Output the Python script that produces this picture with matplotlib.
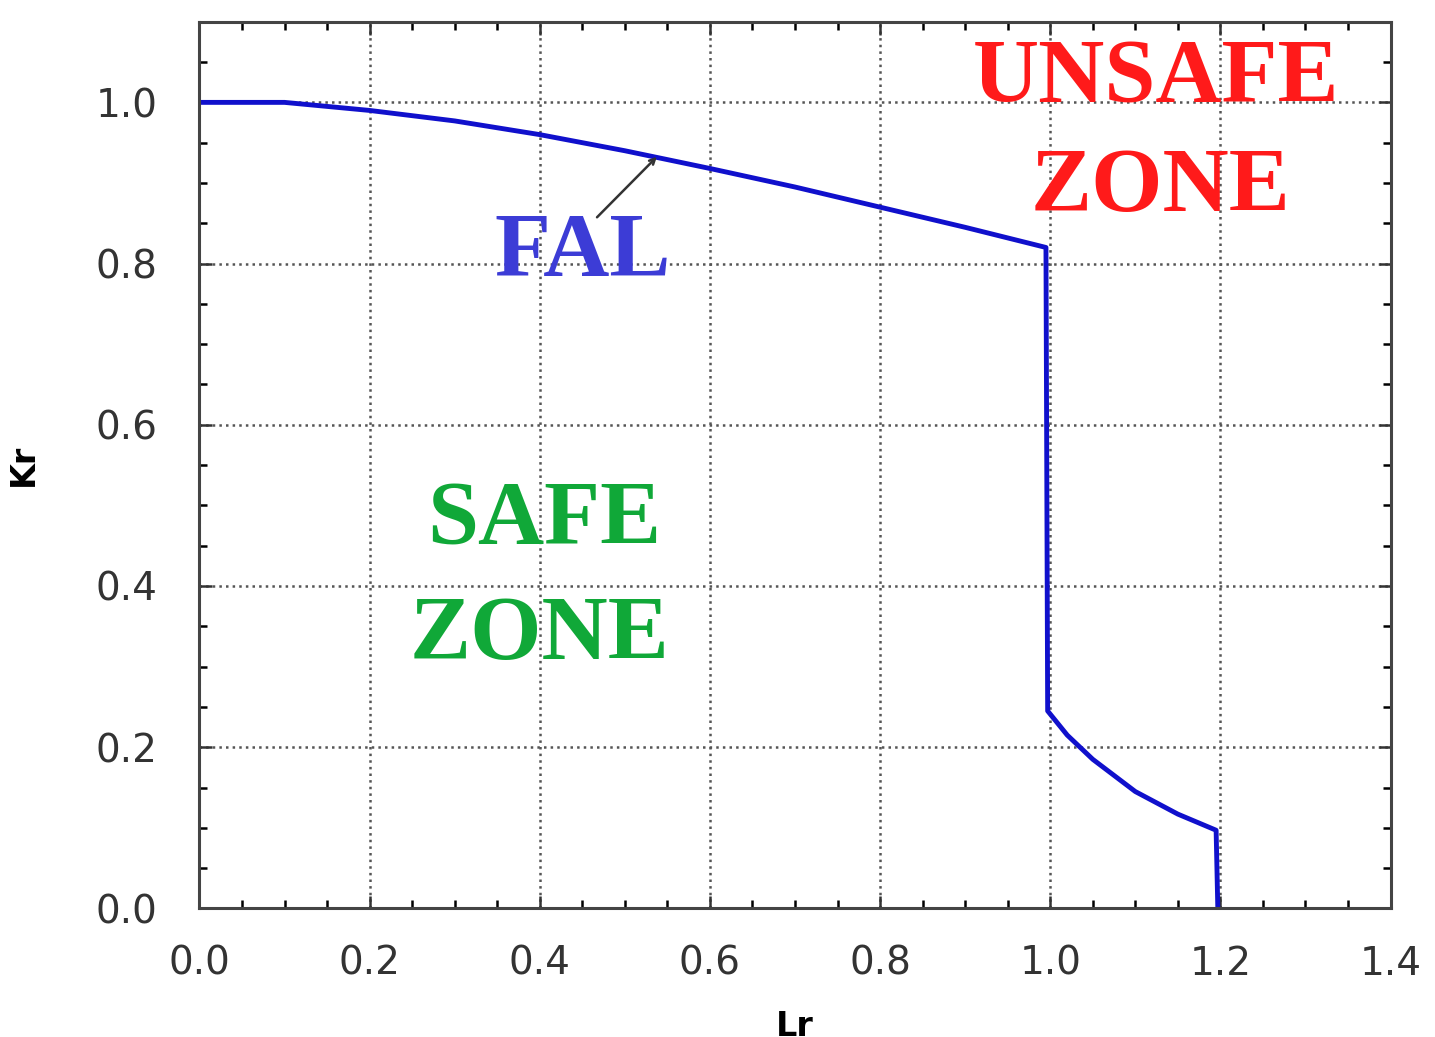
import numpy as np
from matplotlib import pyplot as plt
from matplotlib.ticker import MultipleLocator

# FAL curve
lr = [0.0, 0.1, 0.2, 0.3, 0.4, 0.5, 0.6, 0.7, 0.8, 0.9, 0.995, 0.997, 1.02, 1.05, 1.1, 1.15, 1.195, 1.197]
kr = [1.0, 1.0, 0.99, 0.977, 0.96, 0.94, 0.918, 0.895, 0.87, 0.845, 0.82, 0.245, 0.215, 0.185, 0.145, 0.117, 0.097, 0.0]

f = plt.figure(figsize=(14.35, 10.37), dpi=100)
ax = f.add_axes([0.139, 0.124, 0.83, 0.855])
ax.plot(lr, kr, color='#1010cc', lw=3.5)

ax.set_xlim(0, 1.4)
ax.set_ylim(0, 1.1)
ax.xaxis.set_minor_locator(MultipleLocator(0.05))
ax.yaxis.set_minor_locator(MultipleLocator(0.05))
xt = np.arange(0, 1.41, 0.2)
yt = np.arange(0, 1.01, 0.2)
ax.set_xticks(xt)
ax.set_yticks(yt)
ax.set_xticklabels(['%.1f' % v for v in xt])
ax.set_yticklabels(['%.1f' % v for v in yt])
ax.tick_params(which='both', direction='in', top=True, right=True, width=1.8)
ax.tick_params(which='major', length=9, labelsize=28, pad=30, colors='#333333')
ax.tick_params(axis='x', which='major', pad=26)
ax.tick_params(which='minor', length=6)
for s in ax.spines.values():
    s.set_linewidth(2.2)
    s.set_color('#444444')
ax.grid(True, linestyle=':', color='#555555', lw=1.8)
ax.set_xlabel('Lr', fontsize=24, fontweight='bold', labelpad=20)
ax.set_ylabel('Kr', fontsize=24, fontweight='bold', labelpad=40)

tf = dict(family=['Liberation Serif', 'DejaVu Serif'], fontweight='bold', fontsize=66, ha='center', va='center')
ax.text(1.125, 1.028, 'UNSAFE', color='#ff1a1a', **tf)
ax.text(1.13, 0.892, 'ZONE', color='#ff1a1a', **tf)
ax.text(0.450, 0.812, 'FAL', color='#3c3cd6', **tf)
ax.text(0.405, 0.48, 'SAFE', color='#10a838', **tf)
ax.text(0.40, 0.337, 'ZONE', color='#10a838', **tf)
ax.annotate('', xy=(0.54, 0.935), xytext=(0.465, 0.855),
            arrowprops=dict(arrowstyle='->', color='#333333', lw=1.8))

f.savefig('out.png', dpi=100)
